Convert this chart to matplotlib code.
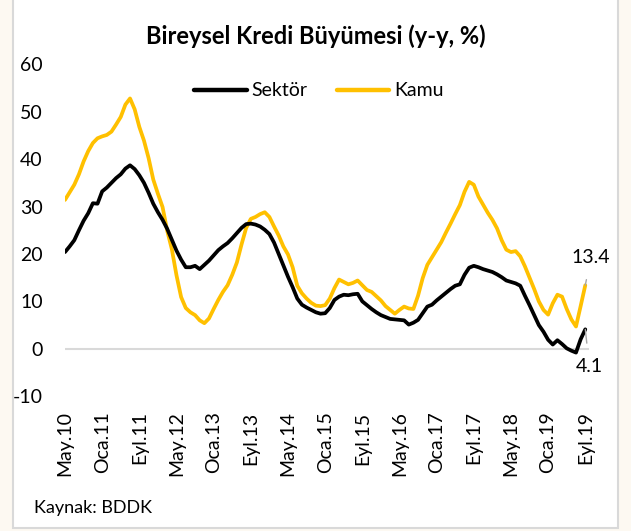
import matplotlib
matplotlib.use("Agg")
import matplotlib.pyplot as plt
from matplotlib.patches import Rectangle

# monthly data, May 2010 - Sep 2019
sektor = [20.4, 21.6, 22.9, 25.0, 27.0, 28.6, 30.7, 30.6, 33.2, 34.0,
          35.0, 36.0, 36.8, 38.0, 38.7, 37.9, 36.6, 35.0, 32.9, 30.6,
          28.8, 27.2, 25.3, 23.0, 20.7, 18.8, 17.2, 17.2, 17.5, 16.8,
          17.7, 18.6, 19.7, 20.8, 21.6, 22.3, 23.3, 24.4, 25.5, 26.3,
          26.4, 26.2, 25.8, 25.1, 24.2, 22.4, 20.0, 17.6, 15.2, 13.0,
          10.6, 9.3, 8.7, 8.2, 7.7, 7.4, 7.5, 8.6, 10.3, 11.0,
          11.4, 11.3, 11.5, 11.6, 10.0, 9.2, 8.4, 7.7, 7.1, 6.7,
          6.3, 6.2, 6.1, 6.0, 5.1, 5.5, 6.1, 7.5, 8.9, 9.3,
          10.2, 11.0, 11.8, 12.6, 13.3, 13.6, 15.6, 17.1, 17.5, 17.2,
          16.8, 16.5, 16.2, 15.7, 15.1, 14.4, 14.1, 13.8, 13.3, 11.2,
          9.2, 7.1, 5.0, 3.6, 1.9, 0.9, 1.8, 1.0, 0.1, -0.4,
          -0.8, 2.0, 4.1]
kamu = [31.4, 33.0, 34.6, 36.8, 39.5, 41.7, 43.4, 44.4, 44.8, 45.1,
        45.8, 47.3, 48.9, 51.5, 52.8, 50.5, 46.8, 43.9, 40.2, 35.7,
        32.7, 29.9, 24.9, 21.0, 15.5, 10.9, 8.6, 7.7, 7.1, 6.0,
        5.4, 6.4, 8.4, 10.3, 12.0, 13.4, 15.6, 18.2, 22.0, 25.5,
        27.4, 27.8, 28.4, 28.8, 27.8, 25.8, 23.9, 21.6, 19.9, 17.2,
        13.3, 11.7, 10.6, 9.7, 9.1, 9.0, 9.2, 10.6, 12.8, 14.6,
        14.1, 13.6, 13.9, 14.4, 13.4, 12.4, 12.0, 11.1, 10.2, 9.0,
        8.2, 7.4, 8.2, 8.9, 8.5, 8.4, 11.2, 14.9, 17.7, 19.3,
        20.9, 22.5, 24.5, 26.4, 28.4, 30.3, 33.1, 35.2, 34.6, 32.1,
        30.4, 28.7, 27.2, 25.4, 22.9, 20.9, 20.4, 20.6, 19.5, 17.4,
        15.0, 12.6, 10.0, 8.2, 7.2, 9.6, 11.4, 11.0, 8.4, 6.2,
        4.7, 9.0, 13.4]
tick_labels = ["May.10", "Oca.11", "Eyl.11", "May.12", "Oca.13", "Eyl.13",
               "May.14", "Oca.15", "Eyl.15", "May.16", "Oca.17", "Eyl.17",
               "May.18", "Oca.19", "Eyl.19"]

plt.rcParams["font.family"] = ["Lato", "DejaVu Sans"]
plt.rcParams["axes.unicode_minus"] = False

W, H = 631, 531
fig = plt.figure(figsize=(W / 100, H / 100), dpi=100, facecolor="#fdf9f2")
frame = Rectangle((13 / W, (H - 528) / H), 605 / W, 1.0, transform=fig.transFigure,
                  facecolor="white", edgecolor="#d9d9d9", lw=1.5, zorder=-5)
fig.add_artist(frame)

ax = fig.add_axes([65 / W, (H - 396.2) / H, 524 / W, (396.2 - 64.3) / H])
ax.set_facecolor("none")
ax.set_zorder(1)
x = list(range(len(sektor)))
ax.axhline(0, color="#d9d9d9", lw=1.5, zorder=1)
ax.plot(x, sektor, color="black", lw=2.7, label="Sektör", zorder=3,
        solid_joinstyle="round", solid_capstyle="round")
ax.plot(x, kamu, color="#FFC000", lw=2.7, label="Kamu", zorder=2,
        solid_joinstyle="round", solid_capstyle="round")

ax.set_xlim(0, 112.8)
ax.set_ylim(-10, 60)
ax.set_yticks(range(-10, 61, 10))
ax.set_xticks(range(0, len(sektor), 8))
ax.set_xticklabels(tick_labels, rotation=90, va="top")
ax.tick_params(axis="y", length=0, pad=16, labelsize=14)
ax.tick_params(axis="x", length=0, pad=11, labelsize=14)
for s in ax.spines.values():
    s.set_visible(False)

ax.annotate("13.4", xy=(112, kamu[-1]), xytext=(4, 20), textcoords="offset points",
            ha="center", va="center", fontsize=14,
            arrowprops=dict(arrowstyle="-", color="#a6a6a6", lw=1, shrinkA=8, shrinkB=0))
ax.annotate("4.1", xy=(112, sektor[-1]), xytext=(3, -27), textcoords="offset points",
            ha="center", va="center", fontsize=14,
            arrowprops=dict(arrowstyle="-", color="#a6a6a6", lw=1, shrinkA=9, shrinkB=0))

leg = ax.legend(loc="center", bbox_to_anchor=(319 / W, (H - 91) / H), bbox_transform=fig.transFigure,
                ncol=2, frameon=False, fontsize=14, handlelength=2.7, handletextpad=0.25,
                columnspacing=1.5)
for h in leg.get_lines():
    h.set_linewidth(3.2)

fig.text(316 / W, (H - 36) / H, "Bireysel Kredi Büyümesi (y-y, %)", ha="center", va="center",
         fontsize=17, fontweight="bold")
fig.text(34 / W, (H - 508) / H, "Kaynak: BDDK", ha="left", va="center", fontsize=13)

fig.savefig("out.png", dpi=100, facecolor=fig.get_facecolor())
